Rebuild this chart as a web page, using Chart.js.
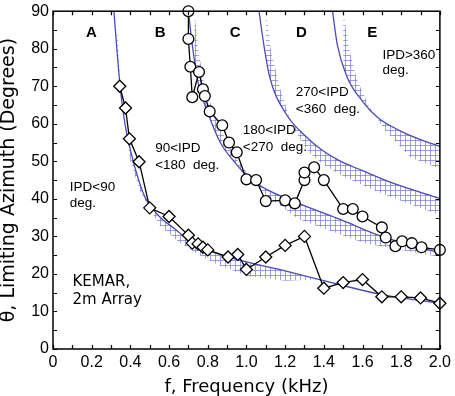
<!DOCTYPE html>
<html>
<head>
<meta charset="utf-8">
<script src="https://cdn.jsdelivr.net/npm/chart.js@4.4.0/dist/chart.umd.min.js"></script>
<style>
html, body { margin: 0; padding: 0; background: #fff; }
#wrap { width: 455px; height: 396px; }
</style>
</head>
<body>
<div id="wrap"><canvas id="grafico"></canvas></div>
<script>
// Datos (f en kHz, angulo en grados)
const circuloX = [0.70, 0.70, 0.71, 0.72, 0.755, 0.775, 0.785, 0.81, 0.875, 0.91, 0.95, 1.0, 1.05, 1.10, 1.20, 1.25, 1.30, 1.30, 1.35, 1.40, 1.50, 1.55, 1.60, 1.70, 1.72, 1.77, 1.805, 1.855, 1.905, 2.0];
const circuloY = [90, 82.6, 75.2, 67.1, 73.8, 69.2, 67.4, 63.3, 59.6, 55, 52.4, 45.2, 45, 39.4, 39.6, 38.8, 45, 47, 48.4, 45, 37.3, 37.3, 35.3, 32.4, 29.7, 27.4, 28.7, 28.2, 27.1, 26.4];

const diamanteX = [0.345, 0.375, 0.395, 0.445, 0.50, 0.60, 0.70, 0.72, 0.75, 0.775, 0.80, 0.905, 0.955, 1.0, 1.10, 1.20, 1.30, 1.40, 1.50, 1.60, 1.70, 1.80, 1.90, 2.0];
const diamanteY = [70, 64.2, 56, 49.9, 37.6, 35.3, 30.3, 28.2, 28, 27.1, 26.4, 24.5, 25.2, 21.2, 24.5, 27.6, 30, 16.2, 17.7, 18.5, 13.9, 13.9, 13.6, 12.2];

// Curvas limite (azul) y borde del sombreado
const ipd90X = [0.315, 0.33, 0.347, 0.369, 0.403, 0.446, 0.48, 0.55, 0.635, 0.72, 0.84, 1.0, 1.2, 1.4, 1.7, 2.0];
const ipd90Y = [90, 80, 70, 61, 52.4, 44.5, 40, 35.3, 31.8, 28.2, 25.6, 23.2, 20.8, 18.2, 14.5, 12.2];
const sombra90X = [0.33, 0.35, 0.40, 0.45, 0.55, 0.65, 0.75, 0.85, 1.0, 1.2, 1.38];
const sombra90Y = [88, 68, 50, 42, 33, 28.5, 25.2, 22.5, 19.5, 18.2, 18.6];

const ipd180X = [0.70, 0.72, 0.75, 0.80, 0.865, 0.94, 1.0, 1.08, 1.27, 1.49, 1.70, 2.0];
const ipd180Y = [90, 81, 71, 63, 55, 49.7, 46.2, 43.2, 38.8, 34.4, 30, 25.6];
const sombra180X = [0.73, 0.75, 0.78, 0.83, 0.90, 0.97, 1.05, 1.10, 1.27, 1.61, 2.0];
const sombra180Y = [90, 80, 71, 63, 55, 49, 44, 41, 34.6, 28.2, 24.5];

const ipd270X = [1.065, 1.09, 1.12, 1.20, 1.32, 1.39, 1.48, 1.60, 1.75, 2.0];
const ipd270Y = [90, 81, 72.5, 63, 56, 53, 50.2, 47.5, 44.3, 40.1];
const sombra270X = [1.10, 1.125, 1.17, 1.24, 1.32, 1.40, 1.50, 1.68, 1.85, 2.0];
const sombra270Y = [90, 80, 70, 59, 52.5, 49, 46, 41.8, 38.5, 35.7];

const ipd360X = [1.445, 1.47, 1.52, 1.60, 1.68, 1.80, 1.90, 2.0];
const ipd360Y = [90, 81, 72.5, 66, 61.6, 58, 55.8, 54];
const sombra360X = [1.50, 1.53, 1.57, 1.63, 1.72, 1.85, 2.0];
const sombra360Y = [90, 80, 72, 65, 58, 51, 48];

const puntos = (xs, ys) => xs.map((v, i) => ({ x: v, y: ys[i] }));

// trama cuadriculada para el sombreado
function crearTrama() {
  const c = document.createElement('canvas');
  c.width = 5; c.height = 5;
  const g = c.getContext('2d');
  g.fillStyle = 'rgba(125,125,220,0.75)';
  g.fillRect(0, 0, 5, 1);
  g.fillRect(0, 0, 1, 5);
  return g.createPattern(c, 'repeat');
}
const trama = crearTrama();
const azul = '#4b4bb8';

function curva(xs, ys) {
  return { data: puntos(xs, ys), borderColor: azul, borderWidth: 1.3, pointRadius: 0, cubicInterpolationMode: 'monotone', fill: false };
}
function sombra(xs, ys, destino) {
  return { data: puntos(xs, ys), borderWidth: 0, borderColor: 'rgba(0,0,0,0)', pointRadius: 0, backgroundColor: trama, fill: destino };
}

// textos dentro del grafico
const textos = [
  { t: 'A', x: 0.198, y: 84.3, bold: true, align: 'center' },
  { t: 'B', x: 0.554, y: 84.3, bold: true, align: 'center' },
  { t: 'C', x: 0.942, y: 84.3, bold: true, align: 'center' },
  { t: 'D', x: 1.284, y: 84.3, bold: true, align: 'center' },
  { t: 'E', x: 1.651, y: 84.3, bold: true, align: 'center' },
  { t: 'IPD<90', x: 0.087, y: 43.2 },
  { t: 'deg.', x: 0.087, y: 38.7 },
  { t: '90<IPD', x: 0.528, y: 53.4 },
  { t: '<180  deg.', x: 0.528, y: 49 },
  { t: '180<IPD', x: 0.981, y: 58.2 },
  { t: '<270  deg.', x: 0.981, y: 53.7 },
  { t: '270<IPD', x: 1.255, y: 68.3 },
  { t: '<360  deg.', x: 1.255, y: 63.9 },
  { t: 'IPD>360', x: 1.703, y: 78.2 },
  { t: 'deg.', x: 1.703, y: 74.3 },
  { t: 'KEMAR,', x: 0.101, y: 17.7, ancho: true },
  { t: '2m Array', x: 0.101, y: 12.9, ancho: true }
];

const marcoPlugin = {
  id: 'marco',
  afterDatasetsDraw(chart) {
    const { ctx, chartArea: a, scales: { x, y } } = chart;
    ctx.save();
    ctx.strokeStyle = '#000';
    ctx.lineWidth = 1.5;
    ctx.strokeRect(a.left, a.top, a.right - a.left, a.bottom - a.top);
    ctx.lineWidth = 1.2;
    ctx.beginPath();
    x.ticks.forEach(t => {
      const px = Math.round(x.getPixelForValue(t.value)) + 0.5;
      ctx.moveTo(px, a.bottom); ctx.lineTo(px, a.bottom - 4);
      ctx.moveTo(px, a.top); ctx.lineTo(px, a.top + 4);
    });
    y.ticks.forEach(t => {
      const py = Math.round(y.getPixelForValue(t.value)) + 0.5;
      ctx.moveTo(a.left, py); ctx.lineTo(a.left + 4, py);
      ctx.moveTo(a.right, py); ctx.lineTo(a.right - 4, py);
    });
    ctx.stroke();
    ctx.fillStyle = '#000';
    ctx.textBaseline = 'middle';
    textos.forEach(e => {
      if (e.ancho) ctx.font = '15px "DejaVu Sans", sans-serif';
      else if (e.bold) ctx.font = 'bold 15px "Liberation Sans", Arial, sans-serif';
      else ctx.font = '13.5px "Liberation Sans", Arial, sans-serif';
      ctx.textAlign = e.align || 'left';
      ctx.fillText(e.t, x.getPixelForValue(e.x), y.getPixelForValue(e.y));
    });
    ctx.restore();
  }
};

const fuente = '"Liberation Sans", Arial, sans-serif';

new Chart(document.getElementById('grafico'), {
  type: 'line',
  data: {
    datasets: [
      { data: puntos(circuloX, circuloY), borderColor: '#000', borderWidth: 1.3, pointStyle: 'circle', pointRadius: 5.4, pointBackgroundColor: '#fff', pointBorderColor: '#000', pointBorderWidth: 1.3, tension: 0, clip: false, order: 0 },
      { data: puntos(diamanteX, diamanteY), borderColor: '#000', borderWidth: 1.3, pointStyle: 'rectRot', pointRadius: 6, pointBackgroundColor: '#fff', pointBorderColor: '#000', pointBorderWidth: 1.3, tension: 0, clip: false, order: 1 },
      Object.assign(curva(ipd90X, ipd90Y), { order: 2 }),
      Object.assign(sombra(sombra90X, sombra90Y, 2), { order: 3 }),
      Object.assign(curva(ipd180X, ipd180Y), { order: 2 }),
      Object.assign(sombra(sombra180X, sombra180Y, 4), { order: 3 }),
      Object.assign(curva(ipd270X, ipd270Y), { order: 2 }),
      Object.assign(sombra(sombra270X, sombra270Y, 6), { order: 3 }),
      Object.assign(curva(ipd360X, ipd360Y), { order: 2 }),
      Object.assign(sombra(sombra360X, sombra360Y, 8), { order: 3 })
    ]
  },
  options: {
    responsive: true,
    maintainAspectRatio: false,
    animation: false,
    layout: { padding: { left: 0, right: 12, top: 7, bottom: 0 } },
    plugins: { legend: { display: false }, tooltip: { enabled: false } },
    elements: { point: { hoverRadius: 5 } },
    scales: {
      x: {
        type: 'linear', min: 0, max: 2.0,
        grid: { display: false, drawTicks: false },
        border: { display: false },
        ticks: {
          stepSize: 0.1, autoSkip: false, maxRotation: 0, padding: 4, color: '#000',
          font: { family: fuente, size: 16 },
          callback: (v, i) => (i % 2 === 0 ? (i === 0 ? '0' : v.toFixed(1)) : '')
        },
        title: { display: true, text: 'f, Frequency (kHz)', color: '#000', padding: 0, font: { family: '"DejaVu Sans", sans-serif', size: 18, lineHeight: 1 } },
        afterFit: s => { s.height = 47; }
      },
      y: {
        min: 0, max: 90,
        grid: { display: false, drawTicks: false },
        border: { display: false },
        ticks: {
          stepSize: 5, autoSkip: false, padding: 4, color: '#000',
          font: { family: fuente, size: 16, lineHeight: 0.9 },
          callback: (v, i) => (i % 2 === 0 ? String(v) : '')
        },
        title: { display: true, text: 'θ, Limiting Azimuth (Degrees)', color: '#000', padding: 0, font: { family: '"DejaVu Sans", sans-serif', size: 19, lineHeight: 1 } },
        afterFit: s => { s.width = 53; }
      }
    }
  },
  plugins: [marcoPlugin]
});
</script>
</body>
</html>
